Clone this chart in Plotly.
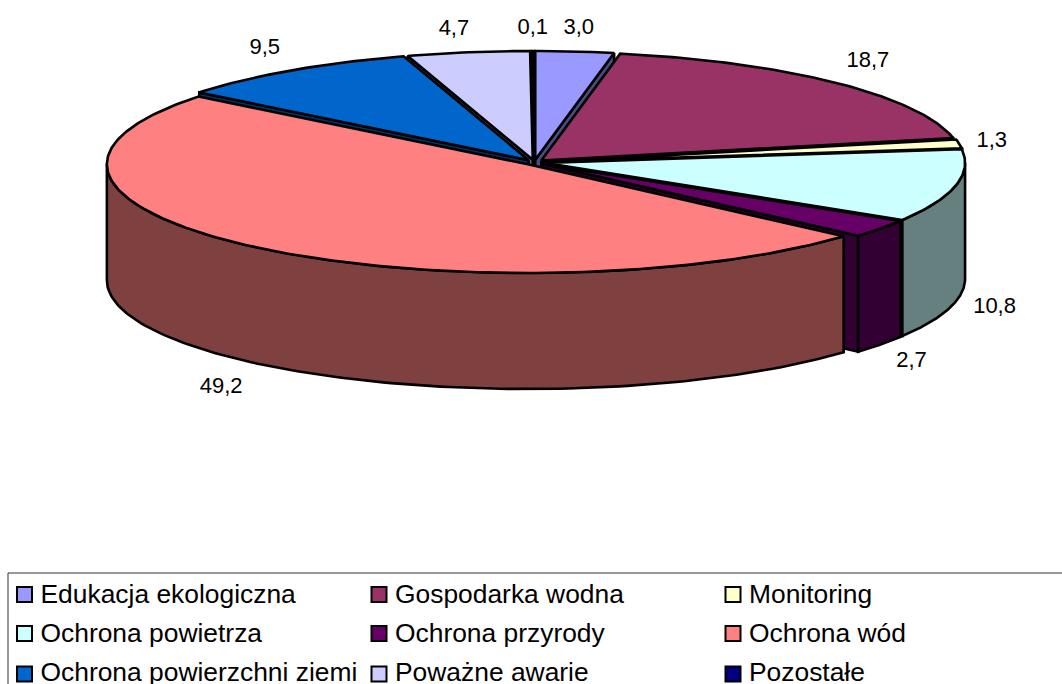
import numpy as np
import plotly.graph_objects as go

categories = ["Edukacja ekologiczna", "Gospodarka wodna", "Monitoring",
              "Ochrona powietrza", "Ochrona przyrody", "Ochrona wód",
              "Ochrona powierzchni ziemi", "Poważne awarie", "Pozostałe"]
values = [3.0, 18.7, 1.3, 10.8, 2.7, 49.2, 9.5, 4.7, 0.1]
labels = ["3,0", "18,7", "1,3", "10,8", "2,7", "49,2", "9,5", "4,7", "0,1"]
top_colors = ["#9999FF", "#993366", "#FFFFCC", "#CCFFFF", "#660066",
              "#FF8080", "#0066CC", "#CCCCFF", "#000080"]

W, H = 1062, 684
CX, CY, RX, RY = 534.3, 162.3, 421.0, 108.7
DEPTH = 116.0
EX, EY = 10.0, 2.6
LAB_RX, LAB_RY = 472.0, 140.0
LAB_NUDGE_X = [0, 3, -8, -1, -2, -10, -3, -8, 0]
LAB_NUDGE_Y = [6, -1, 2, 0, 0, 2, 2, 6, 6]
FONT = "Liberation Sans, Arial, sans-serif"
LW = 2.6


def shade(hex_color):
    r, g, b = (int(hex_color[i:i + 2], 16) for i in (1, 3, 5))
    return f"rgb({r // 2},{g // 2},{b // 2})"


def poly(xs, ys, color):
    return go.Scatter(x=xs, y=ys, mode="lines", fill="toself", fillcolor=color,
                      line=dict(color="black", width=LW), hoverinfo="skip",
                      showlegend=False)


fig = go.Figure()
fracs = np.array(values) / sum(values)
ends = np.cumsum(fracs) * 2 * np.pi
starts = ends - fracs * 2 * np.pi
mids = (starts + ends) / 2

for i in sorted(range(len(values)), key=lambda k: -np.cos(mids[k])):
    t1, t2, m = starts[i], ends[i], mids[i]
    ax = CX + EX * np.sin(m)
    ay = CY - EY * np.cos(m)
    wall = shade(top_colors[i])

    def pt(t):
        return ax + RX * np.sin(t), ay - RY * np.cos(t)

    # cut faces that turn towards the viewer
    for t, visible in ((t1, np.sin(t1) < 0), (t2, np.sin(t2) > 0)):
        if visible:
            px, py = pt(t)
            fig.add_trace(poly([ax, px, px, ax, ax],
                               [ay, py, py + DEPTH, ay + DEPTH, ay], wall))
    # outer rim, front half only
    a, b = max(t1, np.pi / 2), min(t2, 3 * np.pi / 2)
    if a < b:
        ts = np.linspace(a, b, 120)
        xs, ys = pt(ts)
        fig.add_trace(poly(np.r_[xs, xs[::-1], xs[0]],
                           np.r_[ys, ys[::-1] + DEPTH, ys[0]], wall))
    # top face
    ts = np.linspace(t1, t2, max(int((t2 - t1) * 80), 6))
    xs, ys = pt(ts)
    fig.add_trace(poly(np.r_[ax, xs, ax], np.r_[ay, ys, ay], top_colors[i]))

# data labels
lab_x = CX + LAB_RX * np.sin(mids) + np.array(LAB_NUDGE_X)
lab_y = (CY - LAB_RY * np.cos(mids) + np.where(np.cos(mids) < 0, DEPTH, 0)
         + np.array(LAB_NUDGE_Y))
fig.add_trace(go.Scatter(x=lab_x, y=lab_y, text=labels, mode="text",
                         textposition="middle center", hoverinfo="skip",
                         textfont=dict(family=FONT, size=22, color="black"),
                         showlegend=False))

# legend, three columns
COL_X = [24.5, 379, 733]
ROW_Y = [594.5, 633.5, 674]
TEXT_ROW_Y = [596, 635, 674]
leg_x = [COL_X[k % 3] for k in range(len(categories))]
leg_y = [ROW_Y[k // 3] for k in range(len(categories))]
txt_y = [TEXT_ROW_Y[k // 3] for k in range(len(categories))]
fig.add_shape(type="rect", x0=8, y0=573, x1=W + 20, y1=H + 20,
              line=dict(color="#333333", width=1), fillcolor="white", layer="below")
fig.add_trace(go.Scatter(x=leg_x, y=leg_y, mode="markers", hoverinfo="skip",
                         marker=dict(symbol="square", size=15, color=top_colors,
                                     line=dict(color="black", width=2)),
                         showlegend=False))
fig.add_trace(go.Scatter(x=[v + 16 for v in leg_x], y=txt_y, text=categories,
                         mode="text", textposition="middle right", hoverinfo="skip",
                         textfont=dict(family=FONT, size=26.4, color="black"),
                         showlegend=False))

fig.update_layout(width=W, height=H, margin=dict(l=0, r=0, t=0, b=0),
                  paper_bgcolor="white", plot_bgcolor="white", showlegend=False,
                  xaxis=dict(range=[0, W], visible=False, fixedrange=True),
                  yaxis=dict(range=[H, 0], visible=False, fixedrange=True))
fig.write_html("out.html", config={"displayModeBar": False},
               post_script="document.body.style.margin='0';")
